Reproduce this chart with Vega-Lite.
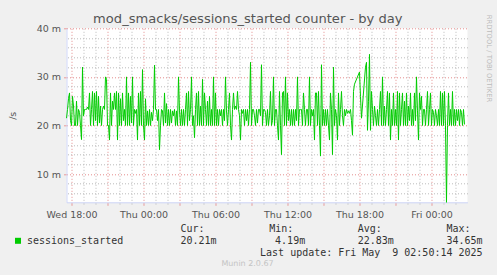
{
  "$schema": "https://vega.github.io/schema/vega-lite/v6.json",
  "background": "#f0f0f0",
  "padding": {"left": 6.5, "top": 12.3, "right": 10, "bottom": 12},
  "spacing": 4,
  "title": {"text": "mod_smacks/sessions_started counter - by day", "anchor": "middle", "baseline": "bottom", "font": "DejaVu Sans", "fontSize": 13.1, "fontWeight": "normal", "color": "#555555", "offset": -25, "dx": -1.5},
  "datasets": {
    "stats": [
      {"line": "hdr", "stat": "Cur", "text": "Cur:"},
      {"line": "hdr", "stat": "Min", "text": "Min:"},
      {"line": "hdr", "stat": "Avg", "text": "Avg:"},
      {"line": "hdr", "stat": "Max", "text": "Max:"},
      {"line": "val", "stat": "Cur", "text": "20.21m"},
      {"line": "val", "stat": "Min", "text": "4.19m"},
      {"line": "val", "stat": "Avg", "text": "22.83m"},
      {"line": "val", "stat": "Max", "text": "34.65m"},
      {"line": "upd", "stat": "Max", "text": "Last update: Fri May\u00a0 9 02:50:14 2025"}
    ],
    "series": [
      {"t":"2025-05-07T17:35","v":21.5},{"t":"2025-05-07T17:40","v":23.3},{"t":"2025-05-07T17:45","v":25.5},{"t":"2025-05-07T17:50","v":26.7},{"t":"2025-05-07T17:55","v":21},
      {"t":"2025-05-07T18:00","v":20},{"t":"2025-05-07T18:05","v":26},{"t":"2025-05-07T18:10","v":24},{"t":"2025-05-07T18:15","v":20},{"t":"2025-05-07T18:20","v":20},{"t":"2025-05-07T18:25","v":25},{"t":"2025-05-07T18:30","v":20},{"t":"2025-05-07T18:35","v":23.3},{"t":"2025-05-07T18:40","v":22.7},{"t":"2025-05-07T18:45","v":20},{"t":"2025-05-07T18:50","v":17.1},{"t":"2025-05-07T18:55","v":32},
      {"t":"2025-05-07T19:00","v":22},{"t":"2025-05-07T19:05","v":23.3},{"t":"2025-05-07T19:10","v":23.3},{"t":"2025-05-07T19:15","v":23.3},{"t":"2025-05-07T19:20","v":23.8},{"t":"2025-05-07T19:25","v":23.3},{"t":"2025-05-07T19:30","v":26.7},{"t":"2025-05-07T19:35","v":20},{"t":"2025-05-07T19:40","v":23.3},{"t":"2025-05-07T19:45","v":27},{"t":"2025-05-07T19:50","v":20},{"t":"2025-05-07T19:55","v":26.7},
      {"t":"2025-05-07T20:00","v":21},{"t":"2025-05-07T20:05","v":27},{"t":"2025-05-07T20:10","v":20},{"t":"2025-05-07T20:15","v":26},{"t":"2025-05-07T20:20","v":20.5},{"t":"2025-05-07T20:25","v":24},{"t":"2025-05-07T20:30","v":20},{"t":"2025-05-07T20:35","v":23.3},{"t":"2025-05-07T20:40","v":24},{"t":"2025-05-07T20:45","v":23.3},{"t":"2025-05-07T20:50","v":30},{"t":"2025-05-07T20:55","v":29.5},
      {"t":"2025-05-07T21:00","v":20},{"t":"2025-05-07T21:05","v":20},{"t":"2025-05-07T21:10","v":17},{"t":"2025-05-07T21:15","v":26.7},{"t":"2025-05-07T21:20","v":20},{"t":"2025-05-07T21:25","v":25},{"t":"2025-05-07T21:30","v":23.3},{"t":"2025-05-07T21:35","v":26.7},{"t":"2025-05-07T21:40","v":23.3},{"t":"2025-05-07T21:45","v":27},{"t":"2025-05-07T21:50","v":17},{"t":"2025-05-07T21:55","v":26.7},
      {"t":"2025-05-07T22:00","v":20},{"t":"2025-05-07T22:05","v":25.5},{"t":"2025-05-07T22:10","v":20},{"t":"2025-05-07T22:15","v":26.7},{"t":"2025-05-07T22:20","v":21},{"t":"2025-05-07T22:25","v":23.3},{"t":"2025-05-07T22:30","v":20},{"t":"2025-05-07T22:35","v":30},{"t":"2025-05-07T22:40","v":20},{"t":"2025-05-07T22:45","v":26.7},{"t":"2025-05-07T22:50","v":20},{"t":"2025-05-07T22:55","v":26},
      {"t":"2025-05-07T23:00","v":20.5},{"t":"2025-05-07T23:05","v":30},{"t":"2025-05-07T23:10","v":20},{"t":"2025-05-07T23:15","v":23.3},{"t":"2025-05-07T23:20","v":22.5},{"t":"2025-05-07T23:25","v":23.3},{"t":"2025-05-07T23:30","v":17},{"t":"2025-05-07T23:35","v":26.7},{"t":"2025-05-07T23:40","v":20},{"t":"2025-05-07T23:45","v":27},{"t":"2025-05-07T23:50","v":20},{"t":"2025-05-07T23:55","v":31.5},
      {"t":"2025-05-08T00:00","v":20},{"t":"2025-05-08T00:05","v":17},{"t":"2025-05-08T00:10","v":25.5},{"t":"2025-05-08T00:15","v":20},{"t":"2025-05-08T00:20","v":23},{"t":"2025-05-08T00:25","v":20},{"t":"2025-05-08T00:30","v":23.3},{"t":"2025-05-08T00:35","v":20},{"t":"2025-05-08T00:40","v":22.7},{"t":"2025-05-08T00:45","v":21},{"t":"2025-05-08T00:50","v":23.3},{"t":"2025-05-08T00:55","v":32.4},
      {"t":"2025-05-08T01:00","v":23.3},{"t":"2025-05-08T01:05","v":23.3},{"t":"2025-05-08T01:10","v":21},{"t":"2025-05-08T01:15","v":23.3},{"t":"2025-05-08T01:20","v":15},{"t":"2025-05-08T01:25","v":20},{"t":"2025-05-08T01:30","v":23.3},{"t":"2025-05-08T01:35","v":23},{"t":"2025-05-08T01:40","v":20},{"t":"2025-05-08T01:45","v":26.7},{"t":"2025-05-08T01:50","v":20.5},{"t":"2025-05-08T01:55","v":24.5},
      {"t":"2025-05-08T02:00","v":20},{"t":"2025-05-08T02:05","v":23.3},{"t":"2025-05-08T02:10","v":20},{"t":"2025-05-08T02:15","v":23.3},{"t":"2025-05-08T02:20","v":20.5},{"t":"2025-05-08T02:25","v":23},{"t":"2025-05-08T02:30","v":22},{"t":"2025-05-08T02:35","v":23.3},{"t":"2025-05-08T02:40","v":20},{"t":"2025-05-08T02:45","v":23},{"t":"2025-05-08T02:50","v":20},{"t":"2025-05-08T02:55","v":30},
      {"t":"2025-05-08T03:00","v":23},{"t":"2025-05-08T03:05","v":20},{"t":"2025-05-08T03:10","v":23.3},{"t":"2025-05-08T03:15","v":20},{"t":"2025-05-08T03:20","v":23.3},{"t":"2025-05-08T03:25","v":20},{"t":"2025-05-08T03:30","v":23.3},{"t":"2025-05-08T03:35","v":26.7},{"t":"2025-05-08T03:40","v":20},{"t":"2025-05-08T03:45","v":27},{"t":"2025-05-08T03:50","v":21},{"t":"2025-05-08T03:55","v":23.3},
      {"t":"2025-05-08T04:00","v":30},{"t":"2025-05-08T04:05","v":20},{"t":"2025-05-08T04:10","v":22},{"t":"2025-05-08T04:15","v":17.5},{"t":"2025-05-08T04:20","v":23.3},{"t":"2025-05-08T04:25","v":26.7},{"t":"2025-05-08T04:30","v":20},{"t":"2025-05-08T04:35","v":27},{"t":"2025-05-08T04:40","v":20},{"t":"2025-05-08T04:45","v":24},{"t":"2025-05-08T04:50","v":20},{"t":"2025-05-08T04:55","v":29.5},
      {"t":"2025-05-08T05:00","v":20},{"t":"2025-05-08T05:05","v":26.7},{"t":"2025-05-08T05:10","v":23.3},{"t":"2025-05-08T05:15","v":20},{"t":"2025-05-08T05:20","v":25},{"t":"2025-05-08T05:25","v":20},{"t":"2025-05-08T05:30","v":26},{"t":"2025-05-08T05:35","v":20},{"t":"2025-05-08T05:40","v":23.3},{"t":"2025-05-08T05:45","v":20},{"t":"2025-05-08T05:50","v":30},{"t":"2025-05-08T05:55","v":20},
      {"t":"2025-05-08T06:00","v":26.7},{"t":"2025-05-08T06:05","v":20},{"t":"2025-05-08T06:10","v":23.3},{"t":"2025-05-08T06:15","v":20},{"t":"2025-05-08T06:20","v":23.3},{"t":"2025-05-08T06:25","v":22},{"t":"2025-05-08T06:30","v":23.3},{"t":"2025-05-08T06:35","v":20},{"t":"2025-05-08T06:40","v":23.3},{"t":"2025-05-08T06:45","v":21},{"t":"2025-05-08T06:50","v":30},{"t":"2025-05-08T06:55","v":23},
      {"t":"2025-05-08T07:00","v":20},{"t":"2025-05-08T07:05","v":23.3},{"t":"2025-05-08T07:10","v":26.7},{"t":"2025-05-08T07:15","v":20},{"t":"2025-05-08T07:20","v":17},{"t":"2025-05-08T07:25","v":23.3},{"t":"2025-05-08T07:30","v":26.7},{"t":"2025-05-08T07:35","v":23.3},{"t":"2025-05-08T07:40","v":24},{"t":"2025-05-08T07:45","v":23.3},{"t":"2025-05-08T07:50","v":27},{"t":"2025-05-08T07:55","v":23.3},
      {"t":"2025-05-08T08:00","v":22},{"t":"2025-05-08T08:05","v":17},{"t":"2025-05-08T08:10","v":23.3},{"t":"2025-05-08T08:15","v":22.5},{"t":"2025-05-08T08:20","v":23.3},{"t":"2025-05-08T08:25","v":20},{"t":"2025-05-08T08:30","v":23.3},{"t":"2025-05-08T08:35","v":21},{"t":"2025-05-08T08:40","v":23.3},{"t":"2025-05-08T08:45","v":20},{"t":"2025-05-08T08:50","v":23.3},{"t":"2025-05-08T08:55","v":33},
      {"t":"2025-05-08T09:00","v":20},{"t":"2025-05-08T09:05","v":23.3},{"t":"2025-05-08T09:10","v":23.3},{"t":"2025-05-08T09:15","v":22},{"t":"2025-05-08T09:20","v":20},{"t":"2025-05-08T09:25","v":23.3},{"t":"2025-05-08T09:30","v":20.5},{"t":"2025-05-08T09:35","v":23.3},{"t":"2025-05-08T09:40","v":23.3},{"t":"2025-05-08T09:45","v":22},{"t":"2025-05-08T09:50","v":32.5},{"t":"2025-05-08T09:55","v":20},
      {"t":"2025-05-08T10:00","v":23.3},{"t":"2025-05-08T10:05","v":23.3},{"t":"2025-05-08T10:10","v":22.7},{"t":"2025-05-08T10:15","v":20},{"t":"2025-05-08T10:20","v":23.3},{"t":"2025-05-08T10:25","v":20},{"t":"2025-05-08T10:30","v":22},{"t":"2025-05-08T10:35","v":27},{"t":"2025-05-08T10:40","v":20},{"t":"2025-05-08T10:45","v":21},{"t":"2025-05-08T10:50","v":30},{"t":"2025-05-08T10:55","v":20},
      {"t":"2025-05-08T11:00","v":23.3},{"t":"2025-05-08T11:05","v":23.3},{"t":"2025-05-08T11:10","v":20},{"t":"2025-05-08T11:15","v":17},{"t":"2025-05-08T11:20","v":27},{"t":"2025-05-08T11:25","v":20},{"t":"2025-05-08T11:30","v":14},{"t":"2025-05-08T11:35","v":26.7},{"t":"2025-05-08T11:40","v":27},{"t":"2025-05-08T11:45","v":20},{"t":"2025-05-08T11:50","v":30},{"t":"2025-05-08T11:55","v":20},
      {"t":"2025-05-08T12:00","v":26.7},{"t":"2025-05-08T12:05","v":21},{"t":"2025-05-08T12:10","v":23.3},{"t":"2025-05-08T12:15","v":20},{"t":"2025-05-08T12:20","v":23.3},{"t":"2025-05-08T12:25","v":20},{"t":"2025-05-08T12:30","v":23.3},{"t":"2025-05-08T12:35","v":20},{"t":"2025-05-08T12:40","v":23.3},{"t":"2025-05-08T12:45","v":21},{"t":"2025-05-08T12:50","v":30},{"t":"2025-05-08T12:55","v":20},
      {"t":"2025-05-08T13:00","v":23.3},{"t":"2025-05-08T13:05","v":23.3},{"t":"2025-05-08T13:10","v":23.3},{"t":"2025-05-08T13:15","v":20},{"t":"2025-05-08T13:20","v":26.7},{"t":"2025-05-08T13:25","v":23.3},{"t":"2025-05-08T13:30","v":20},{"t":"2025-05-08T13:35","v":23.3},{"t":"2025-05-08T13:40","v":23.3},{"t":"2025-05-08T13:45","v":20},{"t":"2025-05-08T13:50","v":30},{"t":"2025-05-08T13:55","v":20},
      {"t":"2025-05-08T14:00","v":23.3},{"t":"2025-05-08T14:05","v":22},{"t":"2025-05-08T14:10","v":23.3},{"t":"2025-05-08T14:15","v":17},{"t":"2025-05-08T14:20","v":26.7},{"t":"2025-05-08T14:25","v":26.7},{"t":"2025-05-08T14:30","v":20},{"t":"2025-05-08T14:35","v":27},{"t":"2025-05-08T14:40","v":20},{"t":"2025-05-08T14:45","v":13.7},{"t":"2025-05-08T14:50","v":32.5},{"t":"2025-05-08T14:55","v":20},
      {"t":"2025-05-08T15:00","v":23.3},{"t":"2025-05-08T15:05","v":20},{"t":"2025-05-08T15:10","v":23.3},{"t":"2025-05-08T15:15","v":20},{"t":"2025-05-08T15:20","v":23.3},{"t":"2025-05-08T15:25","v":20},{"t":"2025-05-08T15:30","v":17},{"t":"2025-05-08T15:35","v":26.7},{"t":"2025-05-08T15:40","v":23.3},{"t":"2025-05-08T15:45","v":14},{"t":"2025-05-08T15:50","v":32},{"t":"2025-05-08T15:55","v":20},
      {"t":"2025-05-08T16:00","v":23.3},{"t":"2025-05-08T16:05","v":22},{"t":"2025-05-08T16:10","v":17},{"t":"2025-05-08T16:15","v":26.7},{"t":"2025-05-08T16:20","v":20},{"t":"2025-05-08T16:25","v":23.3},{"t":"2025-05-08T16:30","v":27},{"t":"2025-05-08T16:35","v":22},{"t":"2025-05-08T16:40","v":20},{"t":"2025-05-08T16:45","v":23.3},{"t":"2025-05-08T16:50","v":22},{"t":"2025-05-08T16:55","v":23.3},
      {"t":"2025-05-08T17:00","v":22.5},{"t":"2025-05-08T17:05","v":23},{"t":"2025-05-08T17:10","v":22.5},{"t":"2025-05-08T17:15","v":23.3},{"t":"2025-05-08T17:20","v":21},{"t":"2025-05-08T17:25","v":18},{"t":"2025-05-08T17:30","v":27},{"t":"2025-05-08T17:35","v":28.5},
      {"t":"2025-05-08T18:00","v":31},{"t":"2025-05-08T18:05","v":26},{"t":"2025-05-08T18:10","v":21.5},{"t":"2025-05-08T18:30","v":32},{"t":"2025-05-08T18:35","v":33},{"t":"2025-05-08T18:40","v":19},{"t":"2025-05-08T18:45","v":25},{"t":"2025-05-08T18:50","v":34.65},{"t":"2025-05-08T18:55","v":19},
      {"t":"2025-05-08T19:00","v":27},{"t":"2025-05-08T19:05","v":23.3},{"t":"2025-05-08T19:10","v":20},{"t":"2025-05-08T19:15","v":24},{"t":"2025-05-08T19:20","v":22},{"t":"2025-05-08T19:25","v":20},{"t":"2025-05-08T19:30","v":23.3},{"t":"2025-05-08T19:35","v":20},{"t":"2025-05-08T19:40","v":23.3},{"t":"2025-05-08T19:45","v":27},{"t":"2025-05-08T19:50","v":20},{"t":"2025-05-08T19:55","v":30},
      {"t":"2025-05-08T20:00","v":20},{"t":"2025-05-08T20:05","v":24},{"t":"2025-05-08T20:10","v":20},{"t":"2025-05-08T20:15","v":23.3},{"t":"2025-05-08T20:20","v":27},{"t":"2025-05-08T20:25","v":20},{"t":"2025-05-08T20:30","v":26.7},{"t":"2025-05-08T20:35","v":17},{"t":"2025-05-08T20:40","v":23.3},{"t":"2025-05-08T20:45","v":20},{"t":"2025-05-08T20:50","v":26.7},{"t":"2025-05-08T20:55","v":20},
      {"t":"2025-05-08T21:00","v":23.3},{"t":"2025-05-08T21:05","v":20},{"t":"2025-05-08T21:10","v":27},{"t":"2025-05-08T21:15","v":17},{"t":"2025-05-08T21:20","v":26.7},{"t":"2025-05-08T21:25","v":20},{"t":"2025-05-08T21:30","v":23.3},{"t":"2025-05-08T21:35","v":26.7},{"t":"2025-05-08T21:40","v":20},{"t":"2025-05-08T21:45","v":25},{"t":"2025-05-08T21:50","v":20},{"t":"2025-05-08T21:55","v":26.7},
      {"t":"2025-05-08T22:00","v":20},{"t":"2025-05-08T22:05","v":24},{"t":"2025-05-08T22:10","v":21},{"t":"2025-05-08T22:15","v":26.7},{"t":"2025-05-08T22:20","v":20},{"t":"2025-05-08T22:25","v":23.3},{"t":"2025-05-08T22:30","v":20},{"t":"2025-05-08T22:35","v":26.7},{"t":"2025-05-08T22:40","v":21},{"t":"2025-05-08T22:45","v":30},{"t":"2025-05-08T22:50","v":23},{"t":"2025-05-08T22:55","v":17},
      {"t":"2025-05-08T23:00","v":26.7},{"t":"2025-05-08T23:05","v":23.3},{"t":"2025-05-08T23:10","v":26},{"t":"2025-05-08T23:15","v":20},{"t":"2025-05-08T23:20","v":23.3},{"t":"2025-05-08T23:25","v":23.3},{"t":"2025-05-08T23:30","v":20},{"t":"2025-05-08T23:35","v":23.3},{"t":"2025-05-08T23:40","v":27},{"t":"2025-05-08T23:45","v":20},{"t":"2025-05-08T23:50","v":23.3},{"t":"2025-05-08T23:55","v":26.7},
      {"t":"2025-05-09T00:00","v":20},{"t":"2025-05-09T00:05","v":23.3},{"t":"2025-05-09T00:10","v":22.7},{"t":"2025-05-09T00:15","v":20},{"t":"2025-05-09T00:20","v":23.3},{"t":"2025-05-09T00:25","v":22},{"t":"2025-05-09T00:30","v":20},{"t":"2025-05-09T00:35","v":23.3},{"t":"2025-05-09T00:40","v":20},{"t":"2025-05-09T00:45","v":27},{"t":"2025-05-09T00:50","v":20},{"t":"2025-05-09T00:55","v":26.7},
      {"t":"2025-05-09T01:00","v":20},{"t":"2025-05-09T01:05","v":27},{"t":"2025-05-09T01:10","v":20},{"t":"2025-05-09T01:15","v":4.19},{"t":"2025-05-09T01:20","v":20},{"t":"2025-05-09T01:25","v":26.7},{"t":"2025-05-09T01:30","v":20},{"t":"2025-05-09T01:35","v":23.3},{"t":"2025-05-09T01:40","v":20},{"t":"2025-05-09T01:45","v":27},{"t":"2025-05-09T01:50","v":20},{"t":"2025-05-09T01:55","v":23.3},
      {"t":"2025-05-09T02:00","v":20},{"t":"2025-05-09T02:05","v":23.3},{"t":"2025-05-09T02:10","v":21},{"t":"2025-05-09T02:15","v":23.3},{"t":"2025-05-09T02:20","v":20},{"t":"2025-05-09T02:25","v":23.3},{"t":"2025-05-09T02:30","v":22.7},{"t":"2025-05-09T02:35","v":20},{"t":"2025-05-09T02:40","v":23.3},{"t":"2025-05-09T02:45","v":20.21}
    ]
  },
  "vconcat": [
    {
      "width": 401,
      "height": 174,
      "view": {"fill": "white", "stroke": null},
      "data": {"name": "series"},
      "layer": [
        {
          "mark": {"type": "line", "strokeOpacity": 0},
          "encoding": {
            "x": {"field": "t", "type": "temporal", "scale": {"domain": [{"year": 2025, "month": 5, "date": 7, "hours": 17, "minutes": 35}, {"year": 2025, "month": 5, "date": 9, "hours": 3, "minutes": 0}], "nice": false},
                  "axis": {"title": null, "labels": false, "domain": false,
                           "values": [
                             {"year": 2025, "month": 5, "date": 7, "hours": 19}, {"year": 2025, "month": 5, "date": 7, "hours": 20}, {"year": 2025, "month": 5, "date": 7, "hours": 22}, {"year": 2025, "month": 5, "date": 7, "hours": 23},
                             {"year": 2025, "month": 5, "date": 8, "hours": 1}, {"year": 2025, "month": 5, "date": 8, "hours": 2}, {"year": 2025, "month": 5, "date": 8, "hours": 4}, {"year": 2025, "month": 5, "date": 8, "hours": 5},
                             {"year": 2025, "month": 5, "date": 8, "hours": 7}, {"year": 2025, "month": 5, "date": 8, "hours": 8}, {"year": 2025, "month": 5, "date": 8, "hours": 10}, {"year": 2025, "month": 5, "date": 8, "hours": 11},
                             {"year": 2025, "month": 5, "date": 8, "hours": 13}, {"year": 2025, "month": 5, "date": 8, "hours": 14}, {"year": 2025, "month": 5, "date": 8, "hours": 16}, {"year": 2025, "month": 5, "date": 8, "hours": 17},
                             {"year": 2025, "month": 5, "date": 8, "hours": 19}, {"year": 2025, "month": 5, "date": 8, "hours": 20}, {"year": 2025, "month": 5, "date": 8, "hours": 22}, {"year": 2025, "month": 5, "date": 8, "hours": 23},
                             {"year": 2025, "month": 5, "date": 9, "hours": 1}, {"year": 2025, "month": 5, "date": 9, "hours": 2}
                           ],
                           "tickSize": 2, "tickColor": "#cccccc", "grid": true, "gridColor": "#bbbbbb", "gridDash": [1, 2], "gridWidth": 1}},
            "y": {"field": "v", "type": "quantitative", "scale": {"domain": [4.19, 40], "nice": false, "zero": false},
                  "axis": {"orient": "right", "title": "RRDTOOL / TOBI OETIKER", "titleFont": "DejaVu Sans", "titleFontSize": 6.8, "titleFontWeight": "normal", "titleColor": "#bbbbbb", "titleAngle": 90, "titleAlign": "left", "titleBaseline": "middle", "titleX": 21, "titleY": -14,
                           "labels": false, "domain": false, "ticks": false, "values": [6, 8, 12, 14, 16, 18, 22, 24, 26, 28, 32, 34, 36, 38], "grid": true, "gridColor": "#bbbbbb", "gridDash": [1, 2], "gridWidth": 1}}
          }
        },
        {
          "mark": {"type": "line", "strokeWidth": 1},
          "encoding": {
            "x": {"field": "t", "type": "temporal",
                  "axis": {"title": null, "orient": "bottom",
                           "values": [
                             {"year": 2025, "month": 5, "date": 7, "hours": 18}, {"year": 2025, "month": 5, "date": 7, "hours": 21},
                             {"year": 2025, "month": 5, "date": 8, "hours": 0}, {"year": 2025, "month": 5, "date": 8, "hours": 3}, {"year": 2025, "month": 5, "date": 8, "hours": 6}, {"year": 2025, "month": 5, "date": 8, "hours": 9},
                             {"year": 2025, "month": 5, "date": 8, "hours": 12}, {"year": 2025, "month": 5, "date": 8, "hours": 15}, {"year": 2025, "month": 5, "date": 8, "hours": 18}, {"year": 2025, "month": 5, "date": 8, "hours": 21},
                             {"year": 2025, "month": 5, "date": 9, "hours": 0}
                           ],
                           "labelExpr": "hours(datum.value) % 6 == 0 ? timeFormat(datum.value, '%a %H:%M') : ''", "labelFlush": false, "labelOverlap": false, "labelPadding": 4, "labelFont": "DejaVu Sans", "labelFontSize": 9.5, "labelColor": "#555555", "tickSize": 3, "tickColor": "#e89a9a", "domainColor": "#cfd6f8", "grid": true, "gridColor": "#e48c8c", "gridDash": [1, 2], "gridWidth": 1}},
            "y": {"field": "v", "type": "quantitative",
                  "axis": {"orient": "left", "title": "/s", "values": [10, 20, 30, 40], "labelExpr": "datum.value + ' m'", "labelFont": "DejaVu Sans", "labelFontSize": 9.5, "labelColor": "#555555", "labelPadding": 3, "tickSize": 3, "tickColor": "#e89a9a", "domainColor": "#cfd6f8", "grid": true, "gridColor": "#e48c8c", "gridDash": [1, 2], "gridWidth": 1, "titleFont": "DejaVu Sans", "titleFontSize": 9.5, "titleFontWeight": "normal", "titleColor": "#555555", "titlePadding": 19}},
            "color": {"datum": "sessions_started", "type": "nominal", "scale": {"range": ["#00cc00"]},
                      "legend": {"title": null, "orient": "none", "legendX": -53.5, "legendY": 207.5, "padding": 0, "symbolType": "square", "symbolSize": 36, "symbolFillColor": "#00cc00", "symbolStrokeColor": "#00cc00", "symbolStrokeWidth": 0, "labelFont": "DejaVu Sans Mono", "labelFontSize": 10, "labelColor": "#333333", "labelOffset": 4}}
          }
        }
      ],
      "resolve": {"axis": {"x": "independent", "y": "independent"}}
    },
    {
      "width": 401,
      "height": 36,
      "view": {"fill": "#f0f0f0", "stroke": null},
      "data": {"name": "stats"},
      "title": {"text": "Munin 2.0.67", "orient": "bottom", "anchor": "middle", "baseline": "top", "font": "DejaVu Sans", "fontSize": 8, "fontWeight": "normal", "color": "#c4c4c4", "offset": 1, "dx": -19.5},
      "encoding": {
        "x": {"field": "stat", "type": "ordinal", "scale": {"type": "point", "domain": ["Cur", "Min", "Avg", "Max"], "padding": 0.7612, "align": 0.8444}, "axis": null},
        "y": {"field": "line", "type": "ordinal", "scale": {"type": "point", "domain": ["hdr", "val", "upd"], "padding": 0.5}, "axis": null},
        "text": {"field": "text"}
      },
      "layer": [
        {"transform": [{"filter": "datum.line == 'hdr'"}], "mark": {"type": "text", "align": "left", "baseline": "middle", "font": "DejaVu Sans Mono", "fontSize": 10, "color": "#333333"}},
        {"transform": [{"filter": "datum.line != 'hdr'"}], "mark": {"type": "text", "align": "right", "baseline": "middle", "dx": 36, "font": "DejaVu Sans Mono", "fontSize": 10, "color": "#333333"}}
      ]
    }
  ],
  "config": {"view": {"stroke": null}}
}
